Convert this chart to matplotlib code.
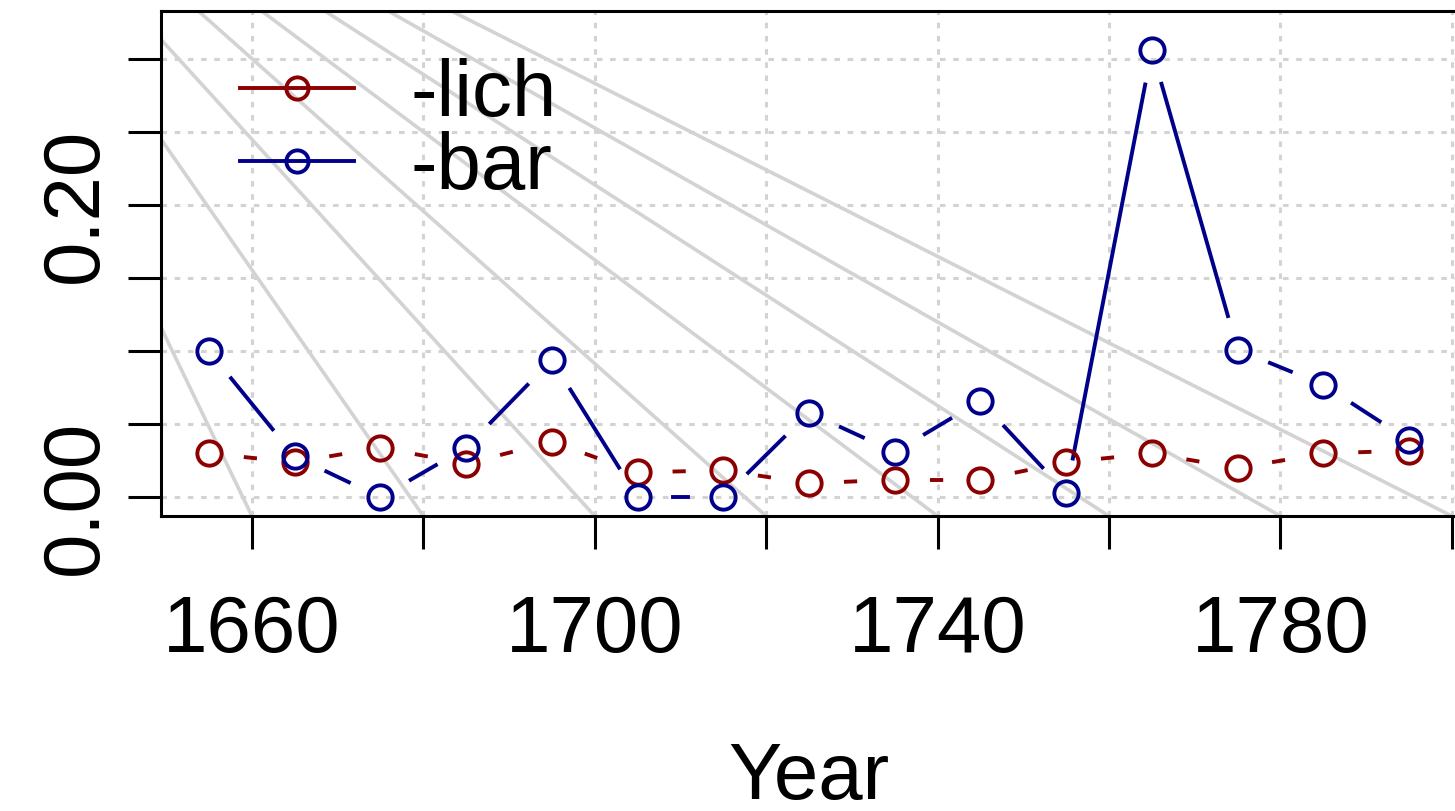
import matplotlib
matplotlib.use('Agg')
import matplotlib.pyplot as plt
import numpy as np
from matplotlib.lines import Line2D

# values
years = [1655, 1665, 1675, 1685, 1695, 1705, 1715, 1725, 1735, 1745,
         1755, 1765, 1775, 1785, 1795]
lich = [0.030, 0.024, 0.034, 0.023, 0.038, 0.017, 0.0185, 0.0096, 0.012, 0.012,
        0.024, 0.030, 0.020, 0.030, 0.032]
bar = [0.100, 0.028, 0.000, 0.034, 0.094, 0.000, 0.000, 0.058, 0.031, 0.066,
       0.003, 0.306, 0.101, 0.077, 0.039]

xticks = [1660, 1680, 1700, 1720, 1740, 1760, 1780, 1800]
xlabels = ['1660', '', '1700', '', '1740', '', '1780', '']
yticks = [0.00, 0.05, 0.10, 0.15, 0.20, 0.25, 0.30]
ylabels = ['0.00', '', '', '', '0.20', '', '']

# background fan of grey lines
fan_apex = (1615, 0.535)
fan_ends = [1660, 1680, 1700, 1720, 1740, 1760, 1780, 1800]

red = '#8B0000'
blue = '#00008B'

plt.rcParams['font.family'] = ['Liberation Sans', 'DejaVu Sans']
plt.rcParams['lines.scale_dashes'] = False

W, H = 1455, 811
fig = plt.figure(figsize=(W / 100, H / 100), dpi=100)
ax = fig.add_axes([161 / W, (H - 516) / H, (1457 - 161) / W, (516 - 11) / H])
ax.set_xlim(1649.4, 1800.6)
ax.set_ylim(-0.0128, 0.3328)

ax.set_xticks(xticks)
ax.set_xticklabels(xlabels, fontsize=57.5)
ax.set_yticks(yticks)
ax.set_yticklabels(ylabels, fontsize=57.5, rotation=90, va='center')
ax.tick_params(axis='both', direction='out', length=24, width=2.2, color='black')
ax.tick_params(axis='x', pad=32)
ax.tick_params(axis='y', pad=10)
for s in ax.spines.values():
    s.set_linewidth(2.2)

ax.grid(True, color='lightgray', linestyle=(0, (4, 5.5)), linewidth=2.2, zorder=0)
ax.set_axisbelow(True)

ybot = ax.get_ylim()[0]
for e in fan_ends:
    ax.plot([fan_apex[0], e], [fan_apex[1], ybot], color='lightgray',
            linewidth=2.6, zorder=1)


def gapped(x, y, gap, **kw):
    # R type="b": segments stop short of the points
    pts = ax.transData.transform(np.column_stack([x, y]))
    inv = ax.transData.inverted()
    for p, q in zip(pts[:-1], pts[1:]):
        d = q - p
        L = np.hypot(*d)
        if L <= 2 * gap:
            continue
        u = d / L
        a = inv.transform(p + u * gap)
        b = inv.transform(q - u * gap)
        ax.plot([a[0], b[0]], [a[1], b[1]], zorder=3, **kw)


gapped(years, lich, 35, color=red, linewidth=2.8, linestyle=(0, (9.5, 9.5)))
gapped(years, bar, 35, color=blue, linewidth=2.8)
ax.plot(years, lich, linestyle='none', marker='o', markersize=17.5,
        markerfacecolor='none', markeredgecolor=red, markeredgewidth=2.8, zorder=4)
ax.plot(years, bar, linestyle='none', marker='o', markersize=17.5,
        markerfacecolor='none', markeredgecolor=blue, markeredgewidth=2.8, zorder=4)

ax.set_xlabel('Year', fontsize=57.5, labelpad=52)

handles = [Line2D([], [], color=red, linewidth=2.8, marker='o', markersize=16,
                  markerfacecolor='none', markeredgewidth=2.8),
           Line2D([], [], color=blue, linewidth=2.8, marker='o', markersize=16,
                  markerfacecolor='none', markeredgewidth=2.8)]
ax.legend(handles, ['-lich', '-bar'], loc='upper left', frameon=False,
          fontsize=57.5, handlelength=1.43, handletextpad=0.71, labelspacing=-0.02,
          borderpad=0, borderaxespad=0, bbox_to_anchor=(79 / 1296, 1 - 47 / 505))

fig.savefig('out.png', dpi=100)
